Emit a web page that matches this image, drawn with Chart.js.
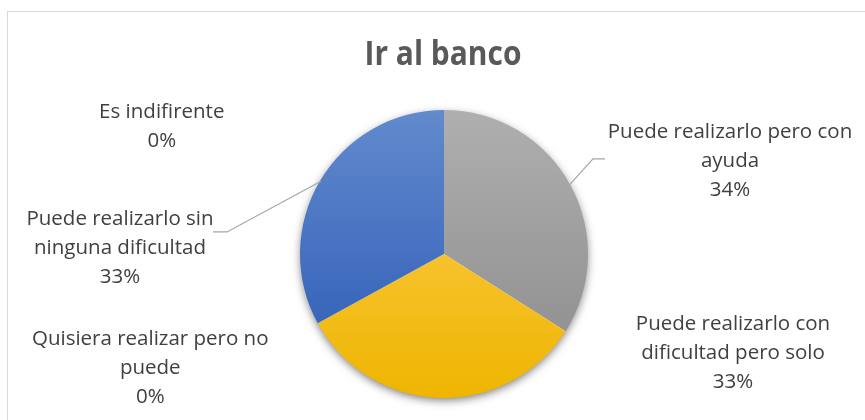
<!DOCTYPE html>
<html>
<head>
<meta charset="utf-8">
<script src="https://cdn.jsdelivr.net/npm/chart.js@4/dist/chart.umd.min.js"></script>
<style>
  html, body { margin: 0; padding: 0; background: #fff; }
  #wrap { width: 865px; height: 420px; position: relative; }
</style>
</head>
<body>
<div id="wrap"><canvas id="c" width="865" height="420"></canvas></div>
<script>
// Slices, clockwise from 12 o'clock; each category is split into its printed lines
const categories = [
  ['Puede realizarlo pero con', 'ayuda'],
  ['Puede realizarlo con', 'dificultad pero solo'],
  ['Quisiera realizar pero no', 'puede'],
  ['Puede realizarlo sin', 'ninguna dificultad'],
  ['Es indifirente']
];
const values = [34, 33, 0, 33, 0];
const chartTitle = 'Ir al banco';

// vertical gradient per slice (top colour, bottom colour)
const colorsTop    = ['#afafaf', '#ffd05a', '#ffd05a', '#628acd', '#628acd'];
const colorsBottom = ['#8a8a8a', '#eeb500', '#eeb500', '#2a58b5', '#2a58b5'];

// label block centres, in pie radii from the pie centre
const labelPos = [
  { dx: 1.986, dy: -0.646, leader: { dx: 1.118, dy: -0.660, elbow: 12 } },
  { dx: 2.007, dy: 0.690 },
  { dx: -2.040, dy: 0.790 },
  { dx: -2.250, dy: -0.040, leader: { dx: -1.604, dy: -0.153, elbow: -14 } },
  { dx: -1.960, dy: -0.885 }
];

const LABEL_FONT = '20.5px "Open Sans"';
const LINE_H = 29;

const decor = {
  id: 'decor',
  beforeDraw(chart) {
    const ctx = chart.ctx;
    ctx.save();
    ctx.fillStyle = '#ffffff';
    ctx.fillRect(0, 0, chart.width, chart.height);
    ctx.strokeStyle = '#d9d9d9';
    ctx.lineWidth = 1;
    ctx.strokeRect(7.5, 11.5, chart.width + 20, chart.height + 20);
    // title, slightly condensed
    ctx.fillStyle = '#595959';
    ctx.font = 'bold 34px "Open Sans"';
    ctx.textAlign = 'center';
    ctx.textBaseline = 'middle';
    ctx.translate(443, 55);
    ctx.scale(0.88, 1);
    ctx.fillText(chartTitle, 0, 0);
    ctx.restore();
  },
  beforeDatasetsDraw(chart) {
    // soft shadow under the whole pie
    const arc = chart.getDatasetMeta(0).data[0];
    const ctx = chart.ctx;
    ctx.save();
    ctx.shadowColor = 'rgba(0,0,0,0.55)';
    ctx.shadowBlur = 10;
    ctx.shadowOffsetY = 3;
    ctx.fillStyle = '#ffffff';
    ctx.beginPath();
    ctx.arc(arc.x, arc.y, arc.outerRadius - 1, 0, Math.PI * 2);
    ctx.fill();
    ctx.restore();
  },
  afterDatasetsDraw(chart) {
    const ctx = chart.ctx;
    const meta = chart.getDatasetMeta(0);
    const total = values.reduce((a, b) => a + b, 0);
    ctx.save();
    ctx.font = LABEL_FONT;
    ctx.textAlign = 'center';
    ctx.textBaseline = 'middle';
    meta.data.forEach((arc, i) => {
      const R = arc.outerRadius;
      const p = labelPos[i];
      const cx = arc.x + p.dx * R;
      const cy = arc.y + p.dy * R;
      const lines = categories[i].concat([Math.round(values[i] / total * 100) + '%']);
      const y0 = cy - (lines.length - 1) * LINE_H / 2;
      if (p.leader) {
        const mid = (arc.startAngle + arc.endAngle) / 2;
        const sx = arc.x + Math.cos(mid) * (R - 1);
        const sy = arc.y + Math.sin(mid) * (R - 1);
        const ex = arc.x + p.leader.dx * R;
        const ey = arc.y + p.leader.dy * R;
        ctx.strokeStyle = '#a6a6a6';
        ctx.lineWidth = 1.2;
        ctx.beginPath();
        ctx.moveTo(sx, sy);
        ctx.lineTo(ex - p.leader.elbow, ey);
        ctx.lineTo(ex, ey);
        ctx.stroke();
      }
      ctx.fillStyle = '#404040';
      lines.forEach((t, k) => ctx.fillText(t, cx, y0 + k * LINE_H));
    });
    ctx.restore();
  }
};

new Chart(document.getElementById('c'), {
  type: 'pie',
  data: {
    labels: categories,
    datasets: [{
      data: values,
      borderWidth: 0,
      backgroundColor: (c) => {
        const i = c.dataIndex;
        const a = c.chart.chartArea;
        if (!a) return colorsBottom[i];
        const g = c.chart.ctx.createLinearGradient(0, a.top, 0, a.bottom);
        g.addColorStop(0, colorsTop[i]);
        g.addColorStop(1, colorsBottom[i]);
        return g;
      }
    }]
  },
  options: {
    responsive: false,
    animation: false,
    events: [],
    layout: { padding: { top: 110, bottom: 22, left: 300, right: 277 } },
    plugins: {
      legend: { display: false },
      title: { display: false },
      tooltip: { enabled: false }
    }
  },
  plugins: [decor]
});
</script>
</body>
</html>
